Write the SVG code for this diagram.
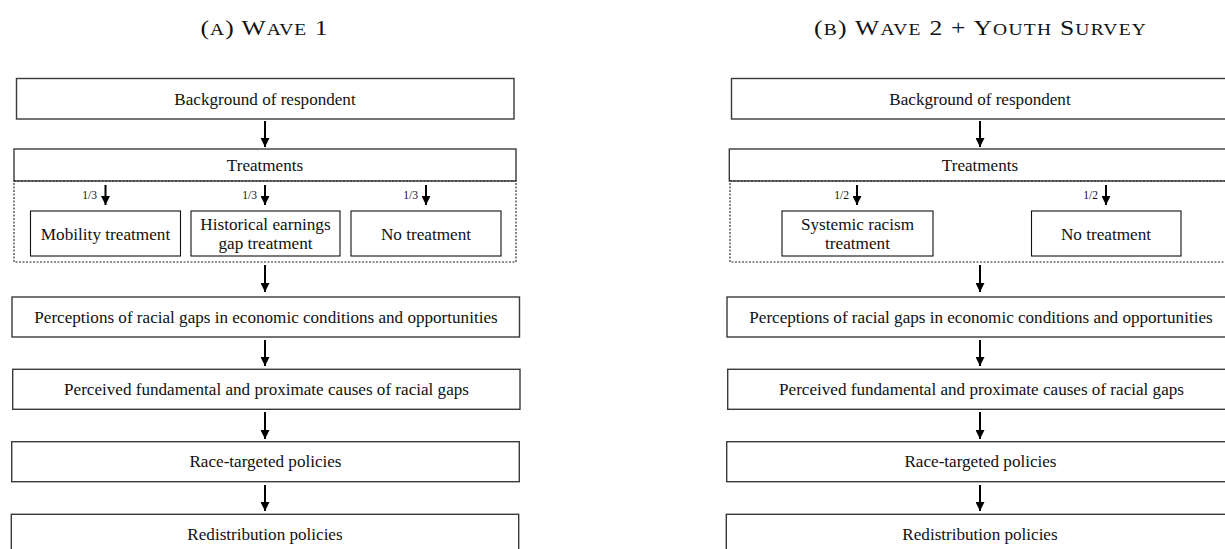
<svg xmlns="http://www.w3.org/2000/svg" width="1225" height="549" viewBox="0 0 1225 549">
<style>
.bg{fill:#ffffff}
.box{fill:#ffffff;stroke:#3a3a3a;stroke-width:1.4}
.sub{fill:#ffffff;stroke:#111111;stroke-width:1.1}
.dot{fill:none;stroke:#222222;stroke-width:1.1;stroke-dasharray:2 1.5}
.t{font-family:"Liberation Serif",serif;font-size:17.1px;fill:#111111;text-anchor:middle}
.s{font-family:"Liberation Serif",serif;font-size:17.2px;fill:#111111;text-anchor:middle}
.f{font-family:"Liberation Serif",serif;font-size:11.5px;fill:#111111;text-anchor:end}
.title{font-family:"Liberation Serif",serif;font-size:21px;fill:#111111;text-anchor:middle}
.sc{font-size:16px}
.arr{stroke:#000000;stroke-width:2;fill:none}
</style>
<defs>
<marker id="ah" viewBox="0 0 10 10" refX="10" refY="5" markerWidth="10" markerHeight="9" markerUnits="userSpaceOnUse" orient="auto">
<path d="M0,0 L10,5 L0,10 z" fill="#000000"/>
</marker>
</defs>
<rect class="bg" x="0" y="0" width="1225" height="549"/>

<g id="title-a" transform="translate(264,35) scale(1.22,1)"><text class="title" x="0" y="0" textLength="104" lengthAdjust="spacing">(<tspan class="sc">A</tspan>) W<tspan class="sc">AVE</tspan> 1</text></g>
<g id="title-b" transform="translate(980,35) scale(1.22,1)"><text class="title" x="0" y="0" textLength="272" lengthAdjust="spacing">(<tspan class="sc">B</tspan>) W<tspan class="sc">AVE</tspan> 2 + Y<tspan class="sc">OUTH</tspan> S<tspan class="sc">URVEY</tspan></text></g>

<!-- Panel A -->
<g id="a-background"><rect class="box" x="16.5" y="78.5" width="497.5" height="40.5"/><text class="t" x="265" y="104.5">Background of respondent</text></g>
<g id="a-treatments"><rect class="box" x="14" y="149" width="502" height="32"/><text class="t" x="265" y="170.5">Treatments</text></g>
<g id="a-treatgroup"><rect class="dot" x="14" y="181" width="502" height="81"/></g>
<g id="a-mobility"><rect class="sub" x="30.5" y="211" width="150" height="45"/><text class="s" x="105.5" y="239.5">Mobility treatment</text></g>
<g id="a-historical"><rect class="sub" x="191" y="211" width="149" height="45"/><text class="s" x="265.5" y="230">Historical earnings</text><text class="s" x="265.5" y="249">gap treatment</text></g>
<g id="a-notreat"><rect class="sub" x="351" y="211" width="150" height="45"/><text class="s" x="426" y="239.5">No treatment</text></g>
<g id="a-perceptions"><rect class="box" x="12" y="297" width="507.5" height="40"/><text class="t" x="266" y="322.5">Perceptions of racial gaps in economic conditions and opportunities</text></g>
<g id="a-perceived"><rect class="box" x="12.7" y="369.3" width="507.3" height="40"/><text class="t" x="266.5" y="394.5">Perceived fundamental and proximate causes of racial gaps</text></g>
<g id="a-race"><rect class="box" x="11.7" y="441.7" width="507.6" height="40"/><text class="t" x="265.5" y="467">Race-targeted policies</text></g>
<g id="a-redistribution"><rect class="box" x="11.3" y="514.3" width="507.4" height="44"/><text class="t" x="265" y="539.5">Redistribution policies</text></g>

<!-- Panel B -->
<g id="b-background"><rect class="box" x="731.5" y="78.5" width="497.5" height="40.5"/><text class="t" x="980" y="104.5">Background of respondent</text></g>
<g id="b-treatments"><rect class="box" x="729.3" y="149" width="502" height="32"/><text class="t" x="980" y="170.5">Treatments</text></g>
<g id="b-treatgroup"><rect class="dot" x="730" y="181" width="502" height="81"/></g>
<g id="b-systemic"><rect class="sub" x="782" y="211" width="151" height="45"/><text class="s" x="857.5" y="230">Systemic racism</text><text class="s" x="857.5" y="249">treatment</text></g>
<g id="b-notreat"><rect class="sub" x="1031.5" y="211" width="149.5" height="45"/><text class="s" x="1106" y="239.5">No treatment</text></g>
<g id="b-perceptions"><rect class="box" x="727" y="297" width="507.5" height="40"/><text class="t" x="981" y="322.5">Perceptions of racial gaps in economic conditions and opportunities</text></g>
<g id="b-perceived"><rect class="box" x="727.7" y="369.3" width="507.3" height="40"/><text class="t" x="981.5" y="394.5">Perceived fundamental and proximate causes of racial gaps</text></g>
<g id="b-race"><rect class="box" x="726.7" y="441.7" width="507.6" height="40"/><text class="t" x="980.5" y="467">Race-targeted policies</text></g>
<g id="b-redistribution"><rect class="box" x="726.3" y="514.3" width="507.4" height="44"/><text class="t" x="980" y="539.5">Redistribution policies</text></g>

<g id="connectors">
<line class="arr" x1="265" y1="121" x2="265" y2="147" marker-end="url(#ah)"/>
<line class="arr" x1="105.5" y1="185" x2="105.5" y2="205" marker-end="url(#ah)"/>
<line class="arr" x1="265" y1="185" x2="265" y2="205" marker-end="url(#ah)"/>
<line class="arr" x1="426" y1="185" x2="426" y2="205" marker-end="url(#ah)"/>
<line class="arr" x1="265" y1="265" x2="265" y2="292" marker-end="url(#ah)"/>
<line class="arr" x1="265" y1="340" x2="265" y2="366" marker-end="url(#ah)"/>
<line class="arr" x1="265" y1="412" x2="265" y2="439" marker-end="url(#ah)"/>
<line class="arr" x1="265" y1="485" x2="265" y2="511" marker-end="url(#ah)"/>

<line class="arr" x1="980" y1="121" x2="980" y2="147" marker-end="url(#ah)"/>
<line class="arr" x1="857" y1="185" x2="857" y2="205" marker-end="url(#ah)"/>
<line class="arr" x1="1106" y1="185" x2="1106" y2="205" marker-end="url(#ah)"/>
<line class="arr" x1="980" y1="265" x2="980" y2="292" marker-end="url(#ah)"/>
<line class="arr" x1="980" y1="340" x2="980" y2="366" marker-end="url(#ah)"/>
<line class="arr" x1="980" y1="412" x2="980" y2="439" marker-end="url(#ah)"/>
<line class="arr" x1="980" y1="485" x2="980" y2="511" marker-end="url(#ah)"/>
</g>

<g id="labels">
<text class="f" x="97" y="199">1/3</text>
<text class="f" x="257" y="199">1/3</text>
<text class="f" x="418" y="199">1/3</text>
<text class="f" x="849" y="199">1/2</text>
<text class="f" x="1098" y="199">1/2</text>
</g>
</svg>
